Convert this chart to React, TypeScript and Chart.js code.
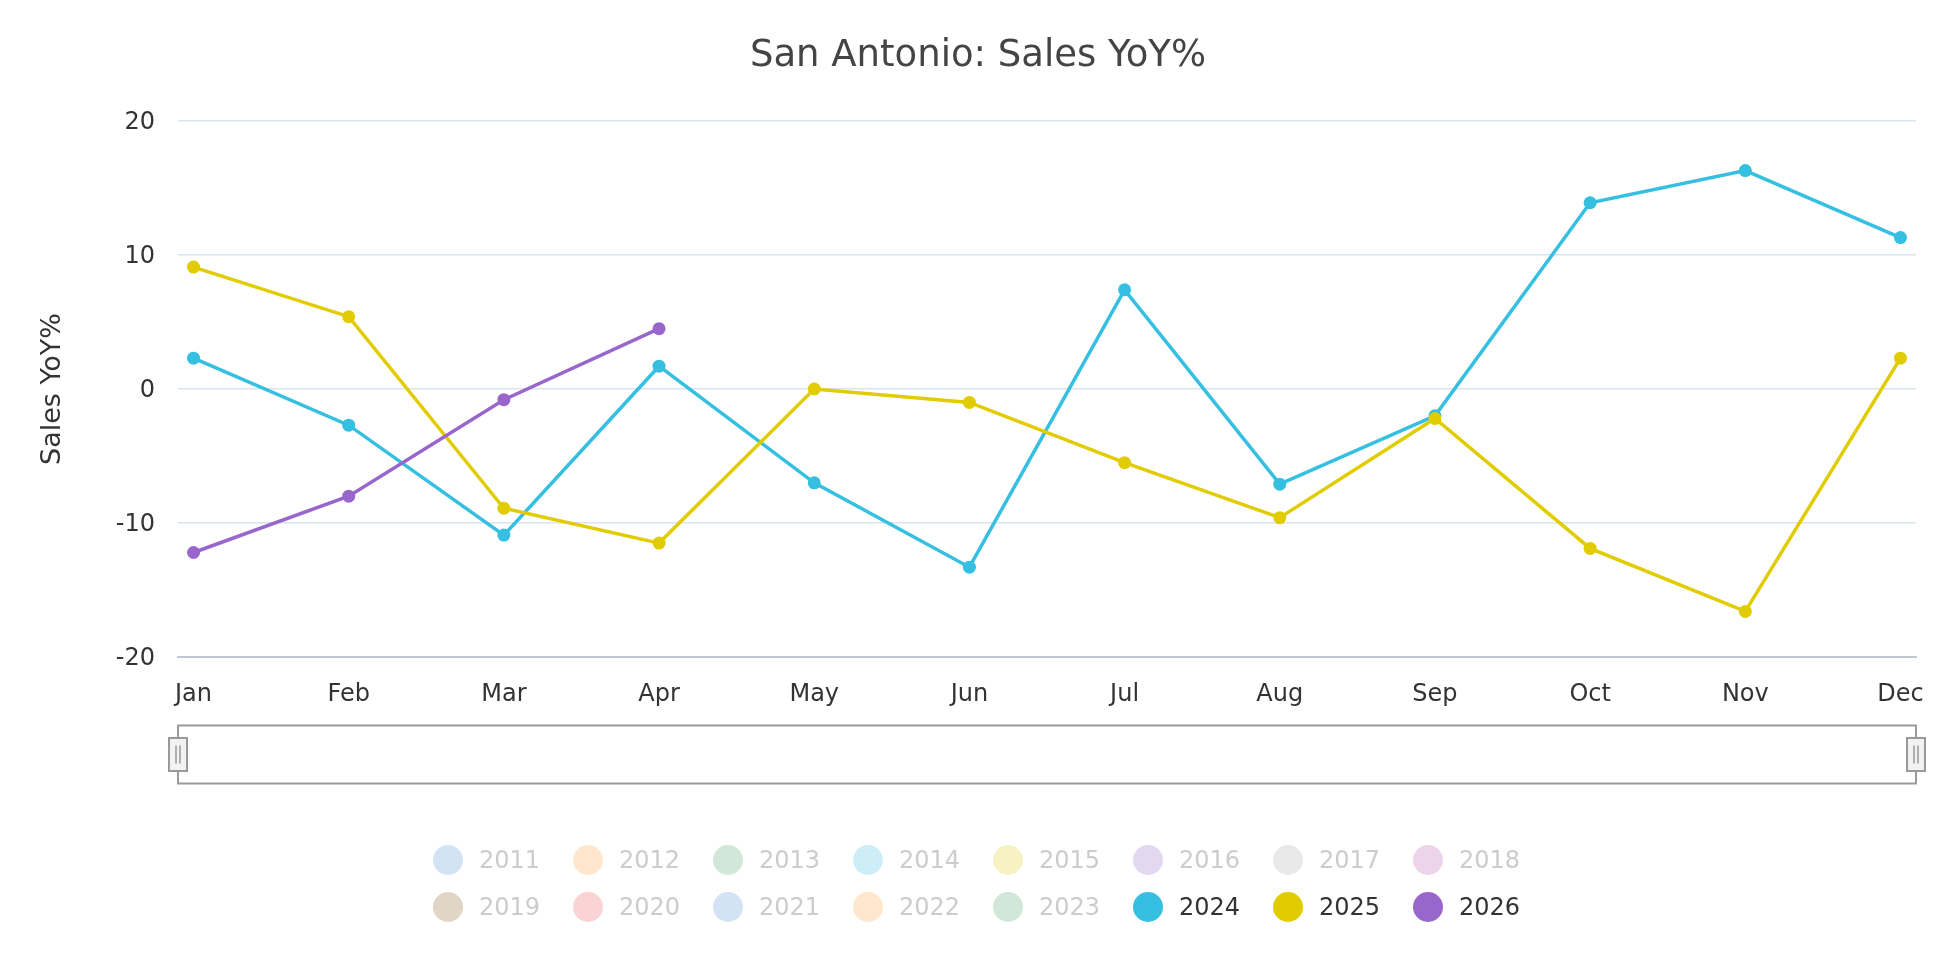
import React, { useEffect, useRef } from "react";
import { Chart, registerables } from "chart.js";

Chart.register(...registerables);

// Month labels along the x axis
const MONTHS = ["Jan", "Feb", "Mar", "Apr", "May", "Jun", "Jul", "Aug", "Sep", "Oct", "Nov", "Dec"];

// Y-axis tick values
const Y_TICKS = [-20, -10, 0, 10, 20];

// Year-over-year sales change (%) per month
const SALES_2024 = [2.3, -2.7, -10.9, 1.7, -7.0, -13.3, 7.4, -7.1, -2.0, 13.9, 16.3, 11.3];
const SALES_2025 = [9.1, 5.4, -8.9, -11.5, 0.0, -1.0, -5.5, -9.6, -2.2, -11.9, -16.6, 2.3];
const SALES_2026 = [-12.2, -8.0, -0.8, 4.5];

const TITLE = "San Antonio: Sales YoY%";

// Legend entries (older years are toggled off)
const LEGEND_YEARS = [
  "2011", "2012", "2013", "2014", "2015", "2016", "2017", "2018",
  "2019", "2020", "2021", "2022", "2023", "2024", "2025", "2026",
];
const LEGEND_COLORS = [
  "#d3e2f5", "#ffe6cc", "#d1e7d7", "#cdeef6", "#f8f2c2", "#e2d9f1", "#e9e9e9", "#ecd5ea",
  "#e1d6c6", "#fad4d4", "#d3e2f5", "#ffe6cc", "#d1e7d7", "#35bfe0", "#e0cc00", "#9966cc",
];
const LEGEND_ACTIVE = [
  false, false, false, false, false, false, false, false,
  false, false, false, false, false, true, true, true,
];

const FONT = "'DejaVu Sans', Verdana, sans-serif";

const toPoints = (values: number[]) => values.map((y, x) => ({ x, y }));

// Title centred over the whole canvas
const titlePlugin = {
  id: "centredTitle",
  afterDraw(chart: any) {
    const { ctx, width } = chart;
    ctx.save();
    ctx.fillStyle = "#444444";
    ctx.font = `normal 37px ${FONT}`;
    ctx.textAlign = "center";
    ctx.textBaseline = "middle";
    ctx.fillText(TITLE, width / 2, 56);
    ctx.restore();
  },
};

// Range selector strip drawn under the x axis
const navigatorPlugin = {
  id: "navigatorStrip",
  afterDraw(chart: any) {
    const { ctx, chartArea } = chart;
    const top = 725.5;
    const bottom = 783.5;
    const mid = (top + bottom) / 2;
    ctx.save();
    ctx.strokeStyle = "#999999";
    ctx.lineWidth = 2;
    ctx.strokeRect(chartArea.left, top, chartArea.right - chartArea.left, bottom - top);
    for (const x of [chartArea.left, chartArea.right]) {
      const w = 18;
      const h = 33;
      ctx.fillStyle = "#f2f2f2";
      ctx.fillRect(x - w / 2, mid - h / 2, w, h);
      ctx.strokeRect(x - w / 2, mid - h / 2, w, h);
      ctx.lineWidth = 1.5;
      ctx.beginPath();
      ctx.moveTo(x - 2, mid - 9);
      ctx.lineTo(x - 2, mid + 9);
      ctx.moveTo(x + 2, mid - 9);
      ctx.lineTo(x + 2, mid + 9);
      ctx.stroke();
      ctx.lineWidth = 2;
    }
    ctx.restore();
  },
};

function makeSeries(label: string, values: number[], color: string, order: number) {
  return {
    label,
    data: toPoints(values),
    borderColor: color,
    backgroundColor: color,
    pointBackgroundColor: color,
    pointBorderWidth: 0,
    pointRadius: 6.5,
    borderWidth: 3.5,
    tension: 0,
    fill: false,
    order,
  };
}

export default function App() {
  const canvasRef = useRef<HTMLCanvasElement | null>(null);

  useEffect(() => {
    if (!canvasRef.current) return;
    const chart = new Chart(canvasRef.current, {
      type: "line",
      data: {
        datasets: [
          makeSeries("2024", SALES_2024, "#35bfe0", 3),
          makeSeries("2025", SALES_2025, "#e0cc00", 2),
          makeSeries("2026", SALES_2026, "#9966cc", 1),
        ],
      },
      options: {
        responsive: false,
        animation: false,
        layout: { padding: { left: 0, right: 40, top: 121, bottom: 223 } },
        plugins: {
          legend: { display: false },
          tooltip: { enabled: false },
          title: { display: false },
        },
        scales: {
          x: {
            type: "linear",
            min: -0.1,
            max: 11.1,
            afterBuildTicks(scale: any) {
              scale.ticks = MONTHS.map((_, i) => ({ value: i }));
            },
            afterFit(scale: any) {
              scale.height = 80;
            },
            grid: { display: false, drawTicks: false },
            border: { display: true, color: "#bfc8d2", width: 2 },
            ticks: {
              padding: 23,
              color: "#333333",
              font: { family: FONT, size: 24 },
              maxRotation: 0,
              autoSkip: false,
              callback: (v: any) => MONTHS[Math.round(Number(v))] ?? "",
            },
          },
          y: {
            min: Y_TICKS[0],
            max: Y_TICKS[Y_TICKS.length - 1],
            afterBuildTicks(scale: any) {
              scale.ticks = Y_TICKS.map((value) => ({ value }));
            },
            afterFit(scale: any) {
              scale.width = 178;
            },
            grid: { color: "#d9e4ee", lineWidth: 1.5, drawTicks: false },
            border: { display: false },
            ticks: {
              padding: 23,
              labelOffset: 2,
              color: "#333333",
              font: { family: FONT, size: 24 },
            },
            title: {
              display: true,
              text: "Sales YoY%",
              color: "#333333",
              font: { family: FONT, size: 27 },
              padding: { top: 37, bottom: 0 },
            },
          },
        },
      },
      plugins: [titlePlugin, navigatorPlugin],
    });
    return () => chart.destroy();
  }, []);

  return (
    <div style={{ position: "fixed", left: 0, top: 0, width: 1956, height: 960, background: "#ffffff" }}>
      <canvas ref={canvasRef} width={1956} height={960} style={{ display: "block" }} />
      <div
        style={{
          position: "absolute",
          left: 433,
          top: 845,
          display: "grid",
          gridTemplateColumns: "repeat(8, 140px)",
          gridAutoRows: "47px",
          fontFamily: FONT,
          fontSize: 24,
        }}
      >
        {LEGEND_YEARS.map((year, i) => (
          <div key={year} style={{ display: "flex", alignItems: "center", height: 30 }}>
            <span
              style={{
                width: 30,
                height: 30,
                borderRadius: "50%",
                background: LEGEND_COLORS[i],
                display: "inline-block",
                flex: "0 0 auto",
              }}
            />
            <span style={{ marginLeft: 16, color: LEGEND_ACTIVE[i] ? "#333333" : "#cccccc", lineHeight: "30px" }}>
              {year}
            </span>
          </div>
        ))}
      </div>
    </div>
  );
}
